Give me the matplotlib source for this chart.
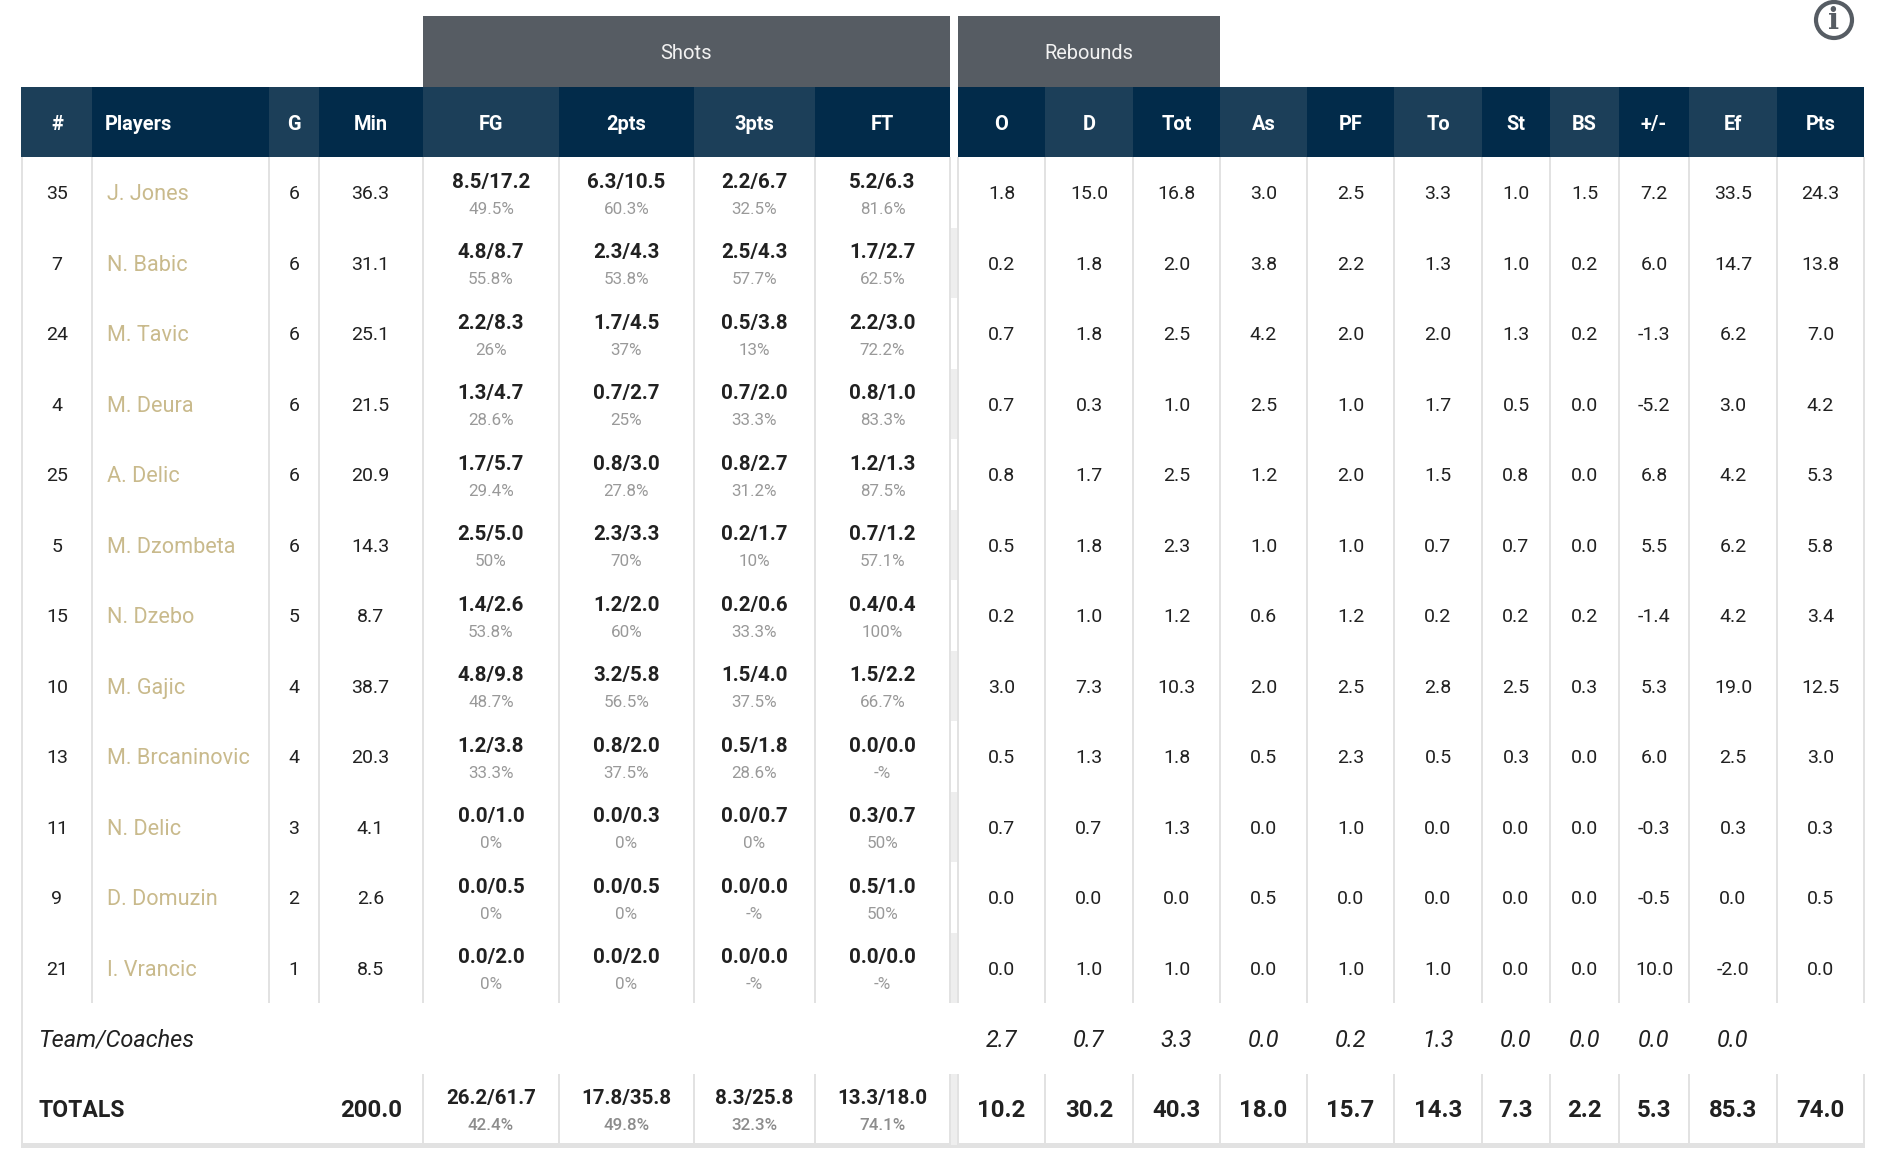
import matplotlib
matplotlib.use('Agg')
import matplotlib.pyplot as plt
from matplotlib.patches import Rectangle, Circle

plt.rcParams['font.family'] = ['Roboto', 'DejaVu Sans']

# table content
numbers = ['35', '7', '24', '4', '25', '5', '15', '10', '13', '11', '9', '21']
players = ['J. Jones', 'N. Babic', 'M. Tavic', 'M. Deura', 'A. Delic', 'M. Dzombeta',
           'N. Dzebo', 'M. Gajic', 'M. Brcaninovic', 'N. Delic', 'D. Domuzin', 'I. Vrancic']
games = ['6', '6', '6', '6', '6', '6', '5', '4', '4', '3', '2', '1']
minutes = ['36.3', '31.1', '25.1', '21.5', '20.9', '14.3', '8.7', '38.7', '20.3', '4.1', '2.6', '8.5']

fg = ['8.5/17.2', '4.8/8.7', '2.2/8.3', '1.3/4.7', '1.7/5.7', '2.5/5.0', '1.4/2.6', '4.8/9.8', '1.2/3.8', '0.0/1.0', '0.0/0.5', '0.0/2.0']
fg_pct = ['49.5%', '55.8%', '26%', '28.6%', '29.4%', '50%', '53.8%', '48.7%', '33.3%', '0%', '0%', '0%']
two = ['6.3/10.5', '2.3/4.3', '1.7/4.5', '0.7/2.7', '0.8/3.0', '2.3/3.3', '1.2/2.0', '3.2/5.8', '0.8/2.0', '0.0/0.3', '0.0/0.5', '0.0/2.0']
two_pct = ['60.3%', '53.8%', '37%', '25%', '27.8%', '70%', '60%', '56.5%', '37.5%', '0%', '0%', '0%']
three = ['2.2/6.7', '2.5/4.3', '0.5/3.8', '0.7/2.0', '0.8/2.7', '0.2/1.7', '0.2/0.6', '1.5/4.0', '0.5/1.8', '0.0/0.7', '0.0/0.0', '0.0/0.0']
three_pct = ['32.5%', '57.7%', '13%', '33.3%', '31.2%', '10%', '33.3%', '37.5%', '28.6%', '0%', '-%', '-%']
ft = ['5.2/6.3', '1.7/2.7', '2.2/3.0', '0.8/1.0', '1.2/1.3', '0.7/1.2', '0.4/0.4', '1.5/2.2', '0.0/0.0', '0.3/0.7', '0.5/1.0', '0.0/0.0']
ft_pct = ['81.6%', '62.5%', '72.2%', '83.3%', '87.5%', '57.1%', '100%', '66.7%', '-%', '50%', '50%', '-%']

off_reb = ['1.8', '0.2', '0.7', '0.7', '0.8', '0.5', '0.2', '3.0', '0.5', '0.7', '0.0', '0.0']
def_reb = ['15.0', '1.8', '1.8', '0.3', '1.7', '1.8', '1.0', '7.3', '1.3', '0.7', '0.0', '1.0']
tot_reb = ['16.8', '2.0', '2.5', '1.0', '2.5', '2.3', '1.2', '10.3', '1.8', '1.3', '0.0', '1.0']
assists = ['3.0', '3.8', '4.2', '2.5', '1.2', '1.0', '0.6', '2.0', '0.5', '0.0', '0.5', '0.0']
fouls = ['2.5', '2.2', '2.0', '1.0', '2.0', '1.0', '1.2', '2.5', '2.3', '1.0', '0.0', '1.0']
turnovers = ['3.3', '1.3', '2.0', '1.7', '1.5', '0.7', '0.2', '2.8', '0.5', '0.0', '0.0', '1.0']
steals = ['1.0', '1.0', '1.3', '0.5', '0.8', '0.7', '0.2', '2.5', '0.3', '0.0', '0.0', '0.0']
blocks = ['1.5', '0.2', '0.2', '0.0', '0.0', '0.0', '0.2', '0.3', '0.0', '0.0', '0.0', '0.0']
plus_minus = ['7.2', '6.0', '-1.3', '-5.2', '6.8', '5.5', '-1.4', '5.3', '6.0', '-0.3', '-0.5', '10.0']
efficiency = ['33.5', '14.7', '6.2', '3.0', '4.2', '6.2', '4.2', '19.0', '2.5', '0.3', '0.0', '-2.0']
points = ['24.3', '13.8', '7.0', '4.2', '5.3', '5.8', '3.4', '12.5', '3.0', '0.3', '0.5', '0.0']

team_values = ['2.7', '0.7', '3.3', '0.0', '0.2', '1.3', '0.0', '0.0', '0.0', '0.0', '']
totals_min = '200.0'
totals_shots = ['26.2/61.7', '17.8/35.8', '8.3/25.8', '13.3/18.0']
totals_pct = ['42.4%', '49.8%', '32.3%', '74.1%']
totals_values = ['10.2', '30.2', '40.3', '18.0', '15.7', '14.3', '7.3', '2.2', '5.3', '85.3', '74.0']

# layout in image pixels
W, H = 1882, 1159
left_edges = [21.5, 92.5, 269, 319, 423, 559, 694, 815]
right_edges = [958, 1045, 1133, 1220, 1307, 1394, 1482, 1550, 1619, 1689, 1777, 1864]
left_heads = ['#', 'Players', 'G', 'Min', 'FG', '2pts', '3pts', 'FT']
right_heads = ['O', 'D', 'Tot', 'As', 'PF', 'To', 'St', 'BS', '+/-', 'Ef', 'Pts']
LEFT_END = 950
ROW0 = 192
ROW_H = 70.5
TEAM_Y = 1038
TOTAL_Y = 1108

DARK = '#022b4a'
LIGHT = '#1c3f59'
GREY = '#565c63'
LINE = '#e2e2e2'
GAP = '#eeeeee'
TXT = '#212121'

fig = plt.figure(figsize=(W / 100, H / 100), dpi=100, facecolor='white')
ax = fig.add_axes([0, 0, 1, 1])
ax.set_xlim(0, W)
ax.set_ylim(H, 0)
ax.axis('off')


def box(x0, y0, x1, y1, color):
    ax.add_patch(Rectangle((x0, y0), x1 - x0, y1 - y0, fc=color, ec='none', lw=0))


def label(x, y, s, px=19.5, weight='normal', color=TXT, ha='center', style='normal'):
    # y is the middle of the digits, roboto cap height is about 0.71 em
    ax.text(x, y + 0.355 * px + 0.5, s, fontsize=px * 0.72, fontweight=weight, color=color,
            ha=ha, va='baseline', fontstyle=style)


# group headers
box(423, 16, 950, 87, GREY)
box(958, 16, 1220, 87, GREY)
label((423 + 950) / 2, 51.5, 'Shots', px=20.3, color='#f2f2f2')
label((958 + 1220) / 2, 51.5, 'Rebounds', px=20, color='#f2f2f2')

# column headers
left_bounds = left_edges + [LEFT_END]
for i, name in enumerate(left_heads):
    x0, x1 = left_bounds[i], left_bounds[i + 1]
    box(x0, 87, x1, 157, LIGHT if i % 2 == 0 else DARK)
    if name == 'Players':
        label(104.5, 122, name, px=20, weight='bold', color='white', ha='left')
    else:
        label((x0 + x1) / 2, 122, name, px=20, weight='bold', color='white')
for i, name in enumerate(right_heads):
    x0, x1 = right_edges[i], right_edges[i + 1]
    box(x0, 87, x1, 157, DARK if i % 2 == 0 else LIGHT)
    label((x0 + x1) / 2, 122, name, px=20, weight='bold', color='white')

# grid lines
rows_end = ROW0 + 12 * ROW_H - 35
for x in left_edges[1:] + [LEFT_END]:
    box(x - 1, 157, x + 1, rows_end, LINE)
for x in right_edges:
    box(x - 1, 157, x + 1, rows_end, LINE)
box(21, 157, 23, 1147, LINE)
for x in left_edges[4:] + [LEFT_END] + right_edges:
    box(x - 1, 1074, x + 1, 1145, LINE)
box(21, 1143, 1865, 1148, LINE)
for r in range(12):
    if r % 2 == 1:
        box(951, ROW0 + r * ROW_H - 35, 957, ROW0 + (r + 1) * ROW_H - 35, GAP)
box(951, 1074, 957, 1145, GAP)

# player rows
left_mid = [(left_bounds[i] + left_bounds[i + 1]) / 2 for i in range(8)]
right_mid = [(right_edges[i] + right_edges[i + 1]) / 2 for i in range(11)]
shots = [(fg, fg_pct), (two, two_pct), (three, three_pct), (ft, ft_pct)]
stats = [off_reb, def_reb, tot_reb, assists, fouls, turnovers, steals, blocks, plus_minus, efficiency, points]

for r in range(12):
    y = ROW0 + r * ROW_H
    label(left_mid[0], y, numbers[r])
    label(107, y, players[r], px=21.7, color='#c9ba8c', ha='left')
    label(left_mid[2], y, games[r])
    label(left_mid[3] - 0.5, y, minutes[r])
    for c, (made, pct) in enumerate(shots):
        label(left_mid[4 + c], y - 12, made[r], px=20.5, weight='bold')
        label(left_mid[4 + c], y + 15, pct[r], px=17, color='#999999')
    for c, column in enumerate(stats):
        label(right_mid[c], y, column[r])

# team row
label(38.5, TEAM_Y, 'Team/Coaches', px=23.5, style='italic', ha='left')
for c, v in enumerate(team_values):
    label(right_mid[c], TEAM_Y, v, px=23.5, style='italic')

# totals row
label(38.5, TOTAL_Y, 'TOTALS', px=23, weight='bold', ha='left')
label(left_mid[3], TOTAL_Y, totals_min, px=24, weight='bold')
for c in range(4):
    label(left_mid[4 + c], TOTAL_Y - 12, totals_shots[c], px=20.5, weight='bold')
    label(left_mid[4 + c], TOTAL_Y + 15, totals_pct[c], px=17, weight='medium', color='#8c8c8c')
for c, v in enumerate(totals_values):
    label(right_mid[c], TOTAL_Y, v, px=24, weight='bold')

# info icon
ax.add_patch(Circle((1834, 20), 18, fc='none', ec=GREY, lw=3))
ax.text(1834, 20.5, 'i', fontsize=21, family='DejaVu Serif', fontweight='bold', color=GREY,
        ha='center', va='center')

fig.savefig('out.png', dpi=100)
